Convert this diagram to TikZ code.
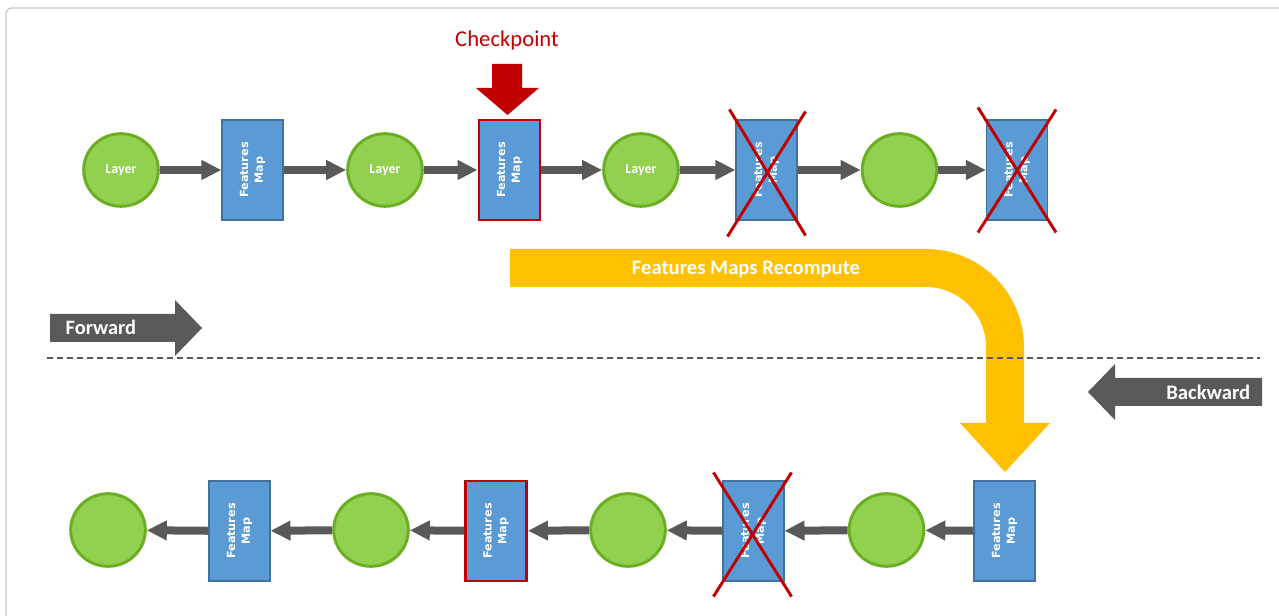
\documentclass[tikz,border=0pt]{standalone}
\usepackage{fontspec}
\setmainfont{Carlito}
\newfontfamily\boxfont{DejaVu Sans}
\usetikzlibrary{shapes.geometric,arrows.meta,calc}
\definecolor{boxblue}{HTML}{5B9BD5}
\definecolor{boxedge}{HTML}{41719C}
\definecolor{layergreen}{HTML}{92D050}
\definecolor{layeredge}{HTML}{6AAE22}
\definecolor{ckred}{HTML}{C00000}
\definecolor{ryellow}{HTML}{FFC000}
\definecolor{agray}{HTML}{595959}
\definecolor{framec}{HTML}{C8C8C8}
\tikzset{
  layer/.style={ellipse, draw=layeredge, line width=2.2pt, fill=layergreen,
    minimum width=56pt, minimum height=54.5pt, inner sep=0pt,
    text=white, font=\bfseries\fontsize{10.5}{12}\selectfont},
  fmap/.style={rectangle, draw=boxedge, line width=0.8pt, fill=boxblue,
    minimum width=45.75pt, minimum height=75pt, inner sep=0pt,
    label={[rotate=90, text=white, align=center, font=\boxfont\bfseries\fontsize{8.4}{11}\selectfont]center:Features\\Map}},
  ckbox/.style={fmap, draw=ckred, line width=2.2pt},
  flow/.style={draw=agray, line width=6pt, -{Triangle[length=15pt,width=14pt]}},
  xline/.style={draw=ckred, line width=2.2pt},
}
\begin{document}
\begin{tikzpicture}[x=0.75pt,y=-0.75pt]
\useasboundingbox (0,0) rectangle (1279,616);
% frame
\draw[framec, line width=1pt] (6,616) -- (6,14) arc[start angle=180,end angle=90,radius=4.5pt] -- (1279,8);

% ---- top row (forward)
\node[layer] (t1) at (121,170) {Layer};
\node[fmap]  (tb1) at (252.5,170) {};
\node[layer] (t2) at (385,170) {Layer};
\node[ckbox] (tb2) at (509.5,170) {};
\node[layer] (t3) at (641,170) {Layer};
\node[fmap]  (tb3) at (766.5,170) {};
\node[layer] (t4) at (899.5,170) {};
\node[fmap]  (tb4) at (1017,170) {};

\draw[flow] (t1) -- (tb1);
\draw[flow] (tb1) -- (t2);
\draw[flow] (t2) -- (tb2);
\draw[flow] (tb2) -- (t3);
\draw[flow] (t3) -- (tb3);
\draw[flow] (tb3) -- (t4);
\draw[flow] (t4) -- (tb4);

\draw[xline] ([shift={(-6,-10)}]tb3.north west) -- ([shift={(8,15)}]tb3.south east);
\draw[xline] ([shift={(8,-8)}]tb3.north east) -- ([shift={(-8,16)}]tb3.south west);
\draw[xline] ([shift={(-8,-12)}]tb4.north west) -- ([shift={(8,12)}]tb4.south east);
\draw[xline] ([shift={(8,-10)}]tb4.north east) -- ([shift={(-8,12)}]tb4.south west);

% checkpoint
\node[text=ckred, font=\fontsize{17}{20}\selectfont] (ck) at (507,40) {Checkpoint};
\fill[ckred] (492,64) -- (522,64) -- (522,88) -- (539,88) -- (507.5,115) -- (476,88) -- (492,88) -- cycle;

% ---- recompute arrow
\fill[ryellow] (510,249) -- (926,249) arc[start angle=90,end angle=0,radius=73.5pt]
  -- (1024,423) -- (1050,423) -- (1005,472) -- (960,423) -- (986,423)
  -- (986,347) arc[start angle=0,end angle=90,radius=45pt] -- (510,287) -- cycle;
\node[text=white, font=\bfseries\fontsize{15.5}{18}\selectfont] (rc) at (746,269) {Features Maps Recompute};

% ---- forward / backward
\fill[agray] (50,314) -- (175,314) -- (175,300) -- (202,328) -- (175,356) -- (175,342) -- (50,342) -- cycle;
\node[anchor=west, text=white, font=\bfseries\fontsize{15.3}{18}\selectfont] (fw) at (61,327) {Forward};
\fill[agray] (1262,378) -- (1115,378) -- (1115,364) -- (1088,392) -- (1115,420) -- (1115,406) -- (1262,406) -- cycle;
\node[anchor=east, text=white, font=\bfseries\fontsize{15.5}{18}\selectfont] (bw) at (1255,392) {Backward};

% divider
\coordinate (d1) at (47,358);
\coordinate (d2) at (1260,358);
\draw[agray, line width=0.9pt, dash pattern=on 4.5pt off 3pt] (d1) -- (d2);

% ---- bottom row (backward)
\node[layer] (b1) at (108,530) {};
\node[fmap]  (bb1) at (239.5,531) {};
\node[layer] (b2) at (371,530) {};
\node[ckbox] (bb2) at (496,531) {};
\node[layer] (b3) at (628,530) {};
\node[fmap]  (bb3) at (753.5,531) {};
\node[layer] (b4) at (886.5,530) {};
\node[fmap]  (bb4) at (1004.5,531) {};

\draw[flow] (bb4) -- (b4);
\draw[flow] (b4) -- (bb3);
\draw[flow] (bb3) -- (b3);
\draw[flow] (b3) -- (bb2);
\draw[flow] (bb2) -- (b2);
\draw[flow] (b2) -- (bb1);
\draw[flow] (bb1) -- (b1);

\draw[xline] ([shift={(-9,-8)}]bb3.north west) -- ([shift={(7,15)}]bb3.south east);
\draw[xline] ([shift={(7,-8)}]bb3.north east) -- ([shift={(-9,15)}]bb3.south west);
\end{tikzpicture}
\end{document}
